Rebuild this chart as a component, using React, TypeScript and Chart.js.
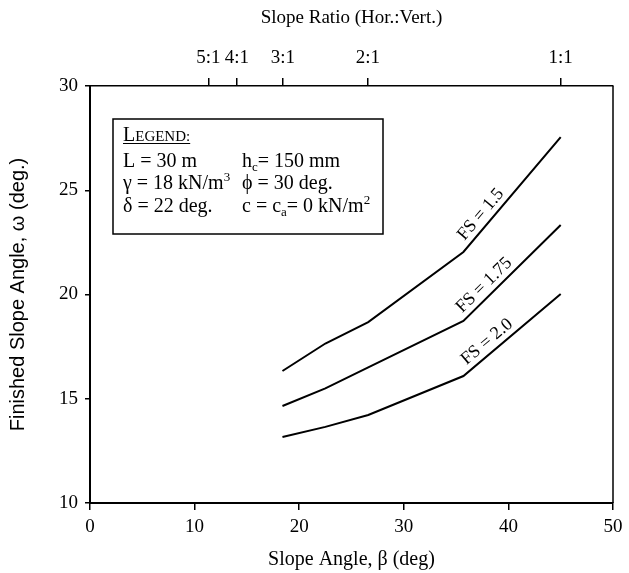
import React, { useEffect, useRef } from 'react';
import { Chart, registerables } from 'chart.js';

Chart.register(...registerables);

// Data
const slopeAngles = [18.4, 22.5, 26.6, 35.7, 45];
const fs150 = [16.33, 17.65, 18.68, 22.04, 27.55];
const fs175 = [14.65, 15.5, 16.5, 18.73, 23.33];
const fs200 = [13.17, 13.65, 14.22, 16.09, 20.02];
const seriesLabels = ['FS = 1.5', 'FS = 1.75', 'FS = 2.0'];
const ratioLabels = ['5:1', '4:1', '3:1', '2:1', '1:1'];
const ratioHorizontal = [5, 4, 3, 2, 1];
const xTicks = [0, 10, 20, 30, 40, 50];
const yTicks = [10, 15, 20, 25, 30];

const SERIF = "'Liberation Serif', 'Times New Roman', serif";
const SANS = "'Liberation Sans', Arial, sans-serif";

const toPoints = (ys: number[]) => ys.map((y, i) => ({ x: slopeAngles[i], y }));

const overlayPlugin = {
  id: 'overlay',
  afterDraw(chart: any) {
    const { ctx, chartArea, scales } = chart;
    const xs = scales.x;
    const ys = scales.y;
    ctx.save();
    // right frame line
    ctx.strokeStyle = '#000';
    ctx.lineWidth = 1.5;
    ctx.beginPath();
    ctx.moveTo(chartArea.right, chartArea.top);
    ctx.lineTo(chartArea.right, chartArea.bottom);
    ctx.stroke();

    // curve labels along last segment
    const all = [fs150, fs175, fs200];
    ctx.fillStyle = '#000';
    ctx.font = `18px ${SERIF}`;
    ctx.textAlign = 'center';
    ctx.textBaseline = 'middle';
    all.forEach((series, si) => {
      const n = series.length;
      const x0 = xs.getPixelForValue(slopeAngles[n - 2]);
      const y0 = ys.getPixelForValue(series[n - 2]);
      const x1 = xs.getPixelForValue(slopeAngles[n - 1]);
      const y1 = ys.getPixelForValue(series[n - 1]);
      const len = Math.hypot(x1 - x0, y1 - y0);
      const dx = (x1 - x0) / len;
      const dy = (y1 - y0) / len;
      const along = 40;
      const off = 11;
      const cx = x0 + dx * along + dy * off;
      const cy = y0 + dy * along - dx * off;
      ctx.save();
      ctx.translate(cx, cy);
      ctx.rotate(Math.atan2(dy, dx));
      ctx.fillText(seriesLabels[si], 0, 0);
      ctx.restore();
    });

    // legend box
    const bx = chartArea.left + 23;
    const by = chartArea.top + 33;
    const bw = 270;
    const bh = 115;
    ctx.lineWidth = 1.5;
    ctx.strokeRect(bx, by, bw, bh);

    ctx.textAlign = 'left';
    ctx.textBaseline = 'alphabetic';
    const c1 = bx + 10;
    const c2 = bx + 129;
    const big = `20px ${SERIF}`;
    const small = `13px ${SERIF}`;
    // LEGEND:
    let x = c1;
    const lb = by + 22;
    ctx.font = `20px ${SERIF}`;
    ctx.fillText('L', x, lb);
    x += ctx.measureText('L').width;
    ctx.font = `15px ${SERIF}`;
    ctx.fillText('EGEND:', x, lb);
    x += ctx.measureText('EGEND:').width;
    ctx.lineWidth = 1;
    ctx.beginPath();
    ctx.moveTo(c1, lb + 2.5);
    ctx.lineTo(x, lb + 2.5);
    ctx.stroke();

    const row = (parts: [string, string][], px: number, py: number) => {
      let cx = px;
      parts.forEach(([txt, kind]) => {
        if (kind === 'n') {
          ctx.font = big;
          ctx.fillText(txt, cx, py);
        } else if (kind === 'sup') {
          ctx.font = small;
          ctx.fillText(txt, cx, py - 8);
        } else {
          ctx.font = small;
          ctx.fillText(txt, cx, py + 4);
        }
        cx += ctx.measureText(txt).width;
      });
    };
    const r1 = by + 48;
    const r2 = by + 70;
    const r3 = by + 93;
    row([['L = 30 m', 'n']], c1, r1);
    row([['\u03b3 = 18 kN/m', 'n'], ['3', 'sup']], c1, r2);
    row([['\u03b4 = 22 deg.', 'n']], c1, r3);
    row([['h', 'n'], ['c', 'sub'], ['= 150 mm', 'n']], c2, r1);
    row([['\u03d5 = 30 deg.', 'n']], c2, r2);
    row([['c = c', 'n'], ['a', 'sub'], ['= 0 kN/m', 'n'], ['2', 'sup']], c2, r3);
    ctx.restore();
  },
};

export default function App() {
  const ref = useRef<HTMLCanvasElement | null>(null);
  useEffect(() => {
    if (!ref.current) return;
    document.body.style.margin = '0';
    const chart = new Chart(ref.current, {
      type: 'line',
      data: {
        datasets: [fs150, fs175, fs200].map((s, i) => ({
          label: seriesLabels[i],
          data: toPoints(s),
          borderColor: '#000',
          backgroundColor: '#000',
          borderWidth: 2,
          pointRadius: 0,
          tension: 0,
          fill: false,
          xAxisID: 'x',
          yAxisID: 'y',
        })),
      },
      options: {
        animation: false,
        responsive: false,
        devicePixelRatio: 1,
        layout: { padding: { left: 0, right: 16, top: 0, bottom: 0 } },
        plugins: { legend: { display: false }, tooltip: { enabled: false } },
        scales: {
          x: {
            type: 'linear',
            position: 'bottom',
            min: 0,
            max: 50,
            afterBuildTicks: (s: any) => {
              s.ticks = xTicks.map((v) => ({ value: v }));
            },
            afterFit: (s: any) => {
              s.height = 70;
            },
            grid: { drawOnChartArea: false, drawTicks: true, tickLength: 7, color: '#000', lineWidth: 1.5 },
            border: { display: true, color: '#000', width: 2 },
            ticks: { color: '#000', font: { family: SERIF, size: 19 }, padding: 6, maxRotation: 0, autoSkip: false },
            title: {
              display: true,
              text: 'Slope Angle, \u03b2 (deg)',
              color: '#000',
              font: { family: SERIF, size: 20 },
              padding: { top: 0, bottom: 1 },
            },
          },
          x2: {
            type: 'linear',
            position: 'top',
            min: 0,
            max: 50,
            afterBuildTicks: (s: any) => {
              s.ticks = ratioHorizontal.map((r) => ({ value: (Math.atan(1 / r) * 180) / Math.PI }));
            },
            afterFit: (s: any) => {
              s.height = 86;
            },
            grid: { drawOnChartArea: false, drawTicks: true, tickLength: 8, color: '#000', lineWidth: 1.5 },
            border: { display: true, color: '#000', width: 1.5 },
            ticks: {
              color: '#000',
              font: { family: SERIF, size: 19 },
              padding: 9,
              maxRotation: 0,
              autoSkip: false,
              callback: (_v: any, i: number) => ratioLabels[i],
            },
            title: {
              display: true,
              text: 'Slope Ratio (Hor.:Vert.)',
              color: '#000',
              font: { family: SERIF, size: 19 },
              padding: { top: 7, bottom: 0 },
            },
          },
          y: {
            type: 'linear',
            position: 'left',
            min: 10,
            max: 30,
            afterBuildTicks: (s: any) => {
              s.ticks = yTicks.map((v) => ({ value: v }));
            },
            afterFit: (s: any) => {
              s.width = 90;
            },
            grid: { drawOnChartArea: false, drawTicks: true, tickLength: 5, color: '#000', lineWidth: 1.5 },
            border: { display: true, color: '#000', width: 2 },
            ticks: { color: '#000', font: { family: SERIF, size: 19 }, padding: 7 },
            title: {
              display: true,
              text: 'Finished Slope Angle, \u03c9 (deg.)',
              color: '#000',
              font: { family: SANS, size: 20 },
              padding: { top: 6, bottom: 0 },
            },
          },
        },
      },
      plugins: [overlayPlugin],
    } as any);
    return () => chart.destroy();
  }, []);
  return (
    <div style={{ position: 'absolute', left: 0, top: 0, width: 629, height: 573, background: '#fff' }}>
      <canvas ref={ref} width={629} height={573} style={{ display: 'block' }} />
    </div>
  );
}
